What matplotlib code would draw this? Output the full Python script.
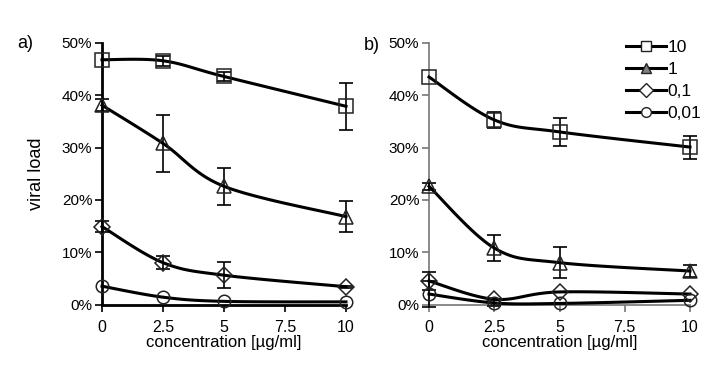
import numpy as np
import matplotlib
matplotlib.use("Agg")
import matplotlib.pyplot as plt
from matplotlib.ticker import FuncFormatter
from matplotlib.lines import Line2D

plt.rcParams['font.family'] = ['Liberation Sans', 'DejaVu Sans']

conc = [0, 2.5, 5, 10]
series_names = ["10", "1", "0,1", "0,01"]
markers = ["s", "^", "D", "o"]

# panel a
a_10 = [46.8, 46.6, 43.6, 37.9]
a_10_err = [0.0, 1.0, 0.8, 4.5]
a_1 = [38.1, 30.8, 22.6, 16.8]
a_1_err = [1.1, 5.4, 3.5, 3.0]
a_01 = [14.9, 8.0, 5.6, 3.4]
a_01_err = [1.1, 1.3, 2.5, 0.2]
a_001 = [3.5, 1.4, 0.6, 0.5]
a_001_err = [0.0, 0.0, 0.0, 0.0]

# panel b
b_10 = [43.5, 35.3, 33.0, 30.1]
b_10_err = [0.0, 1.6, 2.6, 2.2]
b_1 = [22.6, 10.8, 8.0, 6.4]
b_1_err = [0.7, 2.5, 3.0, 1.2]
b_01 = [4.5, 1.0, 2.4, 2.0]
b_01_err = [1.8, 0.0, 0.0, 0.0]
b_001 = [2.0, 0.3, 0.2, 0.8]
b_001_err = [2.5, 0.5, 0.0, 0.0]

panel_a = [(a_10, a_10_err), (a_1, a_1_err), (a_01, a_01_err), (a_001, a_001_err)]
panel_b = [(b_10, b_10_err), (b_1, b_1_err), (b_01, b_01_err), (b_001, b_001_err)]


def smooth(x, y, n=40):
    x = np.asarray(x, float)
    y = np.asarray(y, float)
    P = np.column_stack([x, y])
    out = [P[0]]
    m = len(P)
    for i in range(m - 1):
        p0 = P[i - 1] if i > 0 else P[i]
        p1 = P[i]
        p2 = P[i + 1]
        p3 = P[i + 2] if i + 2 < m else P[i + 1]
        c1 = p1 + (p2 - p0) / 6.0
        c2 = p2 - (p3 - p1) / 6.0
        t = np.linspace(0, 1, n)[1:, None]
        seg = ((1 - t) ** 3) * p1 + 3 * ((1 - t) ** 2) * t * c1 + 3 * (1 - t) * t ** 2 * c2 + t ** 3 * p2
        out.extend(seg)
    out = np.array(out)
    return out[:, 0], out[:, 1]


fig = plt.figure(figsize=(7.18, 3.88), dpi=100)
H = 388.0
W = 718.0
ax_a = fig.add_axes([102 / W, 1 - 304.5 / H, (346 - 102) / W, (304.5 - 43) / H])
ax_b = fig.add_axes([429 / W, 1 - 304.5 / H, (690 - 429) / W, (304.5 - 43) / H])

msizes = [10, 10, 8, 9]

for ax, data, spcol, splw in [(ax_a, panel_a, 'black', 2.0), (ax_b, panel_b, '#777777', 1.2)]:
    for (vals, err), mk, ms, name in zip(data, markers, msizes, series_names):
        sx, sy = smooth(conc, vals)
        ax.plot(sx, sy, color='black', lw=2.2, clip_on=False, zorder=3)
        errs = np.array(err)
        mask = errs > 0
        if mask.any():
            ax.errorbar(np.array(conc)[mask], np.array(vals)[mask], yerr=errs[mask], fmt='none',
                        ecolor='black', elinewidth=1.2, capsize=5, capthick=1.2, clip_on=False, zorder=4)
        ax.plot(conc, vals, linestyle='none', marker=mk, markersize=ms, markerfacecolor='none',
                markeredgecolor='#222222', markeredgewidth=1.1, clip_on=False, zorder=5)
    ax.set_xlim(0, 10)
    ax.set_ylim(0, 50)
    ax.set_xticks([0, 2.5, 5, 7.5, 10])
    ax.set_xticklabels(["0", "2.5", "5", "7.5", "10"])
    ax.set_yticks([0, 10, 20, 30, 40, 50])
    ax.yaxis.set_major_formatter(FuncFormatter(lambda v, p: f"{int(round(v))}%"))
    for s in ['top', 'right']:
        ax.spines[s].set_visible(False)
    ax.spines['left'].set_color(spcol)
    ax.spines['left'].set_linewidth(splw)
    ax.spines['bottom'].set_color(spcol)
    ax.spines['bottom'].set_linewidth(splw)
    ax.tick_params(axis='y', direction='out', length=5, width=1.2, colors=spcol, labelcolor='black',
                   labelsize=11, pad=2)
    ax.tick_params(axis='x', direction='out', length=5, width=1.2, colors=spcol, labelcolor='black',
                   labelsize=11.5, pad=6)
    ax.set_xlabel("concentration [µg/ml]", fontsize=12, labelpad=0)
    ax.patch.set_alpha(0)

ax_a.set_ylabel("viral load", fontsize=13, labelpad=12)
fig.text(25 / W, 1 - 43 / H, "a)", fontsize=13, ha='center', va='center')
fig.text(372 / W, 1 - 45 / H, "b)", fontsize=13, ha='center', va='center')

# legend
handles = [Line2D([0], [0], color='black', lw=2.2, marker=mk, markersize=7,
                  markerfacecolor=('white' if mk != '^' else '#808080'), markeredgecolor='#222222',
                  markeredgewidth=1.0) for mk in markers]
ax_b.legend(handles, series_names, loc='upper right', bbox_to_anchor=(1.07, 1.04), frameon=False,
            fontsize=12.5, handlelength=2.3, handletextpad=0.1, labelspacing=0.4, borderaxespad=0)

fig.savefig("out.png", dpi=100)
